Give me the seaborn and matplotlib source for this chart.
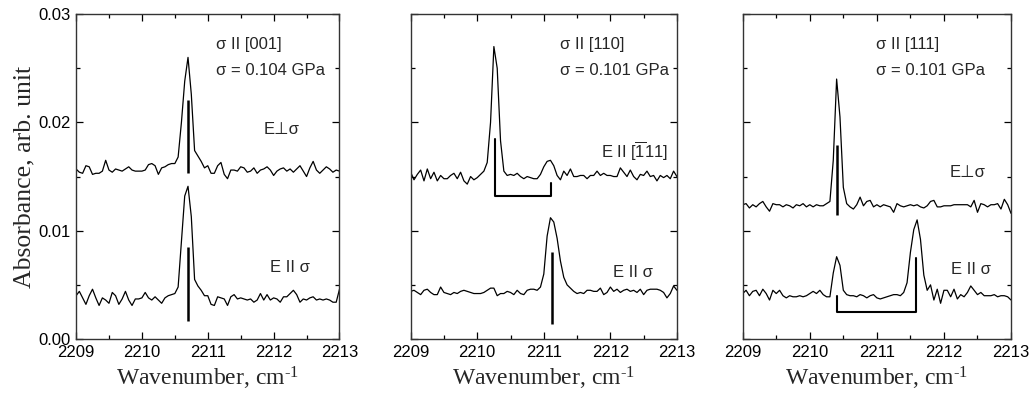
import numpy as np
import pandas as pd
import matplotlib
matplotlib.use("Agg")
import matplotlib.pyplot as plt
import seaborn as sns

# ---------------- data ----------------
wavenumber = np.linspace(2209.0, 2213.0, 81)

p1_perp = [0.0157, 0.0154, 0.0153, 0.0160, 0.0159, 0.0152, 0.0153, 0.0153, 0.0155, 0.0165,
           0.0156, 0.0154, 0.0157, 0.0156, 0.0155, 0.0157, 0.0159, 0.0156, 0.0155, 0.0155,
           0.0155, 0.0156, 0.0161, 0.0162, 0.0160, 0.0152, 0.0158, 0.0159, 0.0161, 0.0162,
           0.0162, 0.0168, 0.0200, 0.0238, 0.0260, 0.0226, 0.0174, 0.0169, 0.0164, 0.0158,
           0.0160, 0.0153, 0.0153, 0.0160, 0.0163, 0.0152, 0.0148, 0.0156, 0.0156, 0.0155,
           0.0159, 0.0158, 0.0154, 0.0155, 0.0158, 0.0153, 0.0156, 0.0157, 0.0159, 0.0156,
           0.0151, 0.0155, 0.0157, 0.0158, 0.0155, 0.0157, 0.0154, 0.0157, 0.0160, 0.0155,
           0.0150, 0.0158, 0.0164, 0.0156, 0.0153, 0.0156, 0.0159, 0.0157, 0.0154, 0.0156,
           0.0155]
p1_par = [0.0040, 0.0044, 0.0038, 0.0032, 0.0040, 0.0046, 0.0038, 0.0031, 0.0038, 0.0036,
          0.0033, 0.0043, 0.0040, 0.0032, 0.0037, 0.0044, 0.0036, 0.0031, 0.0037, 0.0037,
          0.0038, 0.0043, 0.0038, 0.0036, 0.0039, 0.0036, 0.0033, 0.0038, 0.0040, 0.0041,
          0.0042, 0.0048, 0.0090, 0.0132, 0.0141, 0.0113, 0.0055, 0.0049, 0.0045, 0.0040,
          0.0040, 0.0032, 0.0031, 0.0039, 0.0038, 0.0037, 0.0031, 0.0039, 0.0041, 0.0037,
          0.0038, 0.0037, 0.0036, 0.0037, 0.0034, 0.0036, 0.0042, 0.0036, 0.0041, 0.0036,
          0.0038, 0.0037, 0.0034, 0.0039, 0.0039, 0.0042, 0.0045, 0.0041, 0.0034, 0.0037,
          0.0036, 0.0038, 0.0039, 0.0036, 0.0037, 0.0036, 0.0037, 0.0036, 0.0034, 0.0034,
          0.0046]
p2_111 = [0.0154, 0.0147, 0.0152, 0.0156, 0.0146, 0.0157, 0.0148, 0.0154, 0.0146, 0.0151,
          0.0148, 0.0148, 0.0151, 0.0153, 0.0148, 0.0154, 0.0146, 0.0143, 0.0150, 0.0147,
          0.0149, 0.0152, 0.0155, 0.0163, 0.0200, 0.0270, 0.0250, 0.0183, 0.0155, 0.0151,
          0.0152, 0.0151, 0.0153, 0.0150, 0.0148, 0.0150, 0.0149, 0.0148, 0.0148, 0.0152,
          0.0159, 0.0164, 0.0165, 0.0160, 0.0151, 0.0147, 0.0155, 0.0151, 0.0157, 0.0150,
          0.0150, 0.0151, 0.0151, 0.0148, 0.0151, 0.0151, 0.0155, 0.0151, 0.0153, 0.0151,
          0.0151, 0.0150, 0.0150, 0.0158, 0.0154, 0.0150, 0.0156, 0.0150, 0.0147, 0.0152,
          0.0151, 0.0155, 0.0150, 0.0151, 0.0146, 0.0151, 0.0149, 0.0151, 0.0148, 0.0155,
          0.0150]
p2_par = [0.0044, 0.0045, 0.0043, 0.0041, 0.0045, 0.0046, 0.0043, 0.0041, 0.0041, 0.0048,
          0.0043, 0.0042, 0.0041, 0.0043, 0.0042, 0.0044, 0.0045, 0.0044, 0.0043, 0.0042,
          0.0042, 0.0042, 0.0043, 0.0045, 0.0047, 0.0047, 0.0040, 0.0042, 0.0042, 0.0044,
          0.0043, 0.0041, 0.0045, 0.0042, 0.0041, 0.0045, 0.0046, 0.0046, 0.0045, 0.0048,
          0.0060, 0.0095, 0.0112, 0.0108, 0.0093, 0.0072, 0.0057, 0.0050, 0.0047, 0.0044,
          0.0042, 0.0043, 0.0042, 0.0045, 0.0045, 0.0044, 0.0044, 0.0047, 0.0041, 0.0043,
          0.0048, 0.0044, 0.0046, 0.0043, 0.0045, 0.0046, 0.0044, 0.0045, 0.0043, 0.0046,
          0.0041, 0.0045, 0.0046, 0.0046, 0.0046, 0.0045, 0.0043, 0.0038, 0.0042, 0.0049,
          0.0045]
p3_perp = [0.0124, 0.0125, 0.0121, 0.0124, 0.0122, 0.0125, 0.0127, 0.0122, 0.0118, 0.0125,
           0.0124, 0.0124, 0.0122, 0.0124, 0.0123, 0.0121, 0.0124, 0.0123, 0.0125, 0.0122,
           0.0124, 0.0122, 0.0124, 0.0123, 0.0123, 0.0125, 0.0127, 0.0165, 0.0240, 0.0205,
           0.0140, 0.0125, 0.0122, 0.0120, 0.0124, 0.0131, 0.0123, 0.0127, 0.0128, 0.0122,
           0.0124, 0.0122, 0.0124, 0.0123, 0.0122, 0.0117, 0.0125, 0.0123, 0.0122, 0.0123,
           0.0124, 0.0123, 0.0124, 0.0122, 0.0121, 0.0123, 0.0127, 0.0128, 0.0122, 0.0122,
           0.0123, 0.0123, 0.0123, 0.0124, 0.0124, 0.0124, 0.0124, 0.0124, 0.0122, 0.0128,
           0.0117, 0.0125, 0.0124, 0.0122, 0.0124, 0.0124, 0.0125, 0.0120, 0.0129, 0.0124,
           0.0116]
p3_par = [0.0042, 0.0045, 0.0040, 0.0044, 0.0045, 0.0040, 0.0046, 0.0042, 0.0036, 0.0045,
          0.0042, 0.0045, 0.0040, 0.0038, 0.0040, 0.0039, 0.0039, 0.0040, 0.0039, 0.0040,
          0.0042, 0.0044, 0.0042, 0.0045, 0.0041, 0.0039, 0.0039, 0.0061, 0.0076, 0.0068,
          0.0045, 0.0041, 0.0040, 0.0040, 0.0039, 0.0041, 0.0040, 0.0038, 0.0040, 0.0041,
          0.0038, 0.0037, 0.0038, 0.0039, 0.0040, 0.0041, 0.0041, 0.0040, 0.0043, 0.0052,
          0.0080, 0.0101, 0.0110, 0.0092, 0.0059, 0.0045, 0.0050, 0.0036, 0.0046, 0.0033,
          0.0045, 0.0045, 0.0039, 0.0046, 0.0037, 0.0041, 0.0039, 0.0043, 0.0049, 0.0045,
          0.0041, 0.0043, 0.0040, 0.0040, 0.0040, 0.0041, 0.0039, 0.0040, 0.0040, 0.0039,
          0.0036]

# stick marks: (panel, position, y_low, y_high)
stick_panel = [0, 0, 1, 2]
stick_pos = [2210.70, 2210.70, 2211.13, 2210.41]
stick_lo = [0.0153, 0.0017, 0.0014, 0.01145]
stick_hi = [0.0221, 0.0085, 0.0080, 0.0179]

# bracket marks (panel 2 upper, panel 3 lower)
br2_x = [2210.26, 2210.26, 2211.11, 2211.11]
br2_y = [0.0185, 0.0132, 0.0132, 0.0144]
br3_x = [2210.40, 2210.40, 2211.59, 2211.59]
br3_y = [0.0040, 0.0025, 0.0025, 0.0075]

x_ticks = [2209, 2210, 2211, 2212, 2213]
y_ticks = [0.00, 0.01, 0.02, 0.03]

headers = [("σ II [001]", "σ = 0.104 GPa"),
           ("σ II [110]", "σ = 0.101 GPa"),
           ("σ II [111]", "σ = 0.101 GPa")]
header_x = [2211.12, 2211.24, 2210.99]
upper_labels = ["E⊥σ", r"E II [$\mathregular{\overline{1}}$11]", "E⊥σ"]
upper_label_pos = [(2211.85, 0.0193), (2211.86, 0.0173), (2212.09, 0.0154)]
lower_labels = ["E II σ", "E II σ", "E II σ"]
lower_label_pos = [(2211.94, 0.0066), (2212.04, 0.0061), (2212.10, 0.0064)]

# ---------------- plot ----------------
sns.set_theme(style="ticks")
plt.rcParams["font.family"] = ["Liberation Sans", "DejaVu Sans"]
plt.rcParams["mathtext.fontset"] = "custom"
plt.rcParams["mathtext.rm"] = "Liberation Sans"

fig = plt.figure(figsize=(10.36, 3.97), dpi=100)
fig.patch.set_facecolor("white")
positions = [[0.0734, 0.146, 0.2543, 0.8186],
             [0.3964, 0.146, 0.2570, 0.8186],
             [0.7169, 0.146, 0.2590, 0.8186]]
axes = [fig.add_axes(p) for p in positions]

traces = [(p1_perp, p1_par), (p2_111, p2_par), (p3_perp, p3_par)]
df = pd.concat([
    pd.DataFrame({"wn": wavenumber, "A": np.array(v), "panel": k, "trace": t})
    for k, pair in enumerate(traces) for t, v in enumerate(pair)
], ignore_index=True)

txt_family = ["Liberation Sans", "DejaVu Sans"]
for k, ax in enumerate(axes):
    ax.set_facecolor("white")
    sub = df[df.panel == k]
    for t in (0, 1):
        d = sub[sub.trace == t]
        sns.lineplot(data=d, x="wn", y="A", ax=ax, color="black", lw=0.9,
                     estimator=None, legend=False)
    for p, xs, lo, hi in zip(stick_panel, stick_pos, stick_lo, stick_hi):
        if p == k:
            ax.vlines(xs, lo, hi, color="black", lw=1.8)
    ax.set_xlim(2209, 2213)
    ax.set_ylim(0, 0.03)
    ax.set_xticks(x_ticks)
    ax.set_xticks(np.array(x_ticks[:-1]) + 0.5, minor=True)
    ax.set_yticks(y_ticks)
    ax.set_yticks(np.array(y_ticks[:-1]) + 0.005, minor=True)
    ax.tick_params(which="both", direction="in", top=True, right=True,
                   colors="black", labelsize=12, width=0.9)
    ax.tick_params(which="major", length=5, pad=4)
    ax.tick_params(which="minor", length=3)
    for s in ax.spines.values():
        s.set_color("#333333")
        s.set_linewidth(1.0)
    ax.set_xticklabels([str(v) for v in x_ticks])
    if k == 0:
        ax.set_yticklabels([f"{v:.2f}" for v in y_ticks])
        ax.set_ylabel("Absorbance, arb. unit", family="Liberation Serif",
                      fontsize=18.5, labelpad=2)
    else:
        ax.set_yticklabels([])
        ax.set_ylabel("")
    ax.set_xlabel("Wavenumber, cm$\\mathregular{^{\u20101}}$", family="Liberation Serif",
                  fontsize=17, labelpad=4)
    h1, h2 = headers[k]
    ax.text(header_x[k], 0.0272, h1, fontsize=12, ha="left", va="center", family=txt_family)
    ax.text(header_x[k], 0.0248, h2, fontsize=12, ha="left", va="center", family=txt_family)
    ax.text(*upper_label_pos[k], upper_labels[k], fontsize=12, ha="left", va="center",
            family=txt_family)
    ax.text(*lower_label_pos[k], lower_labels[k], fontsize=12, ha="left", va="center",
            family=txt_family)

axes[1].plot(br2_x, br2_y, color="black", lw=1.5)
axes[2].plot(br3_x, br3_y, color="black", lw=1.5)

fig.savefig("out.png", dpi=100, facecolor="white")
